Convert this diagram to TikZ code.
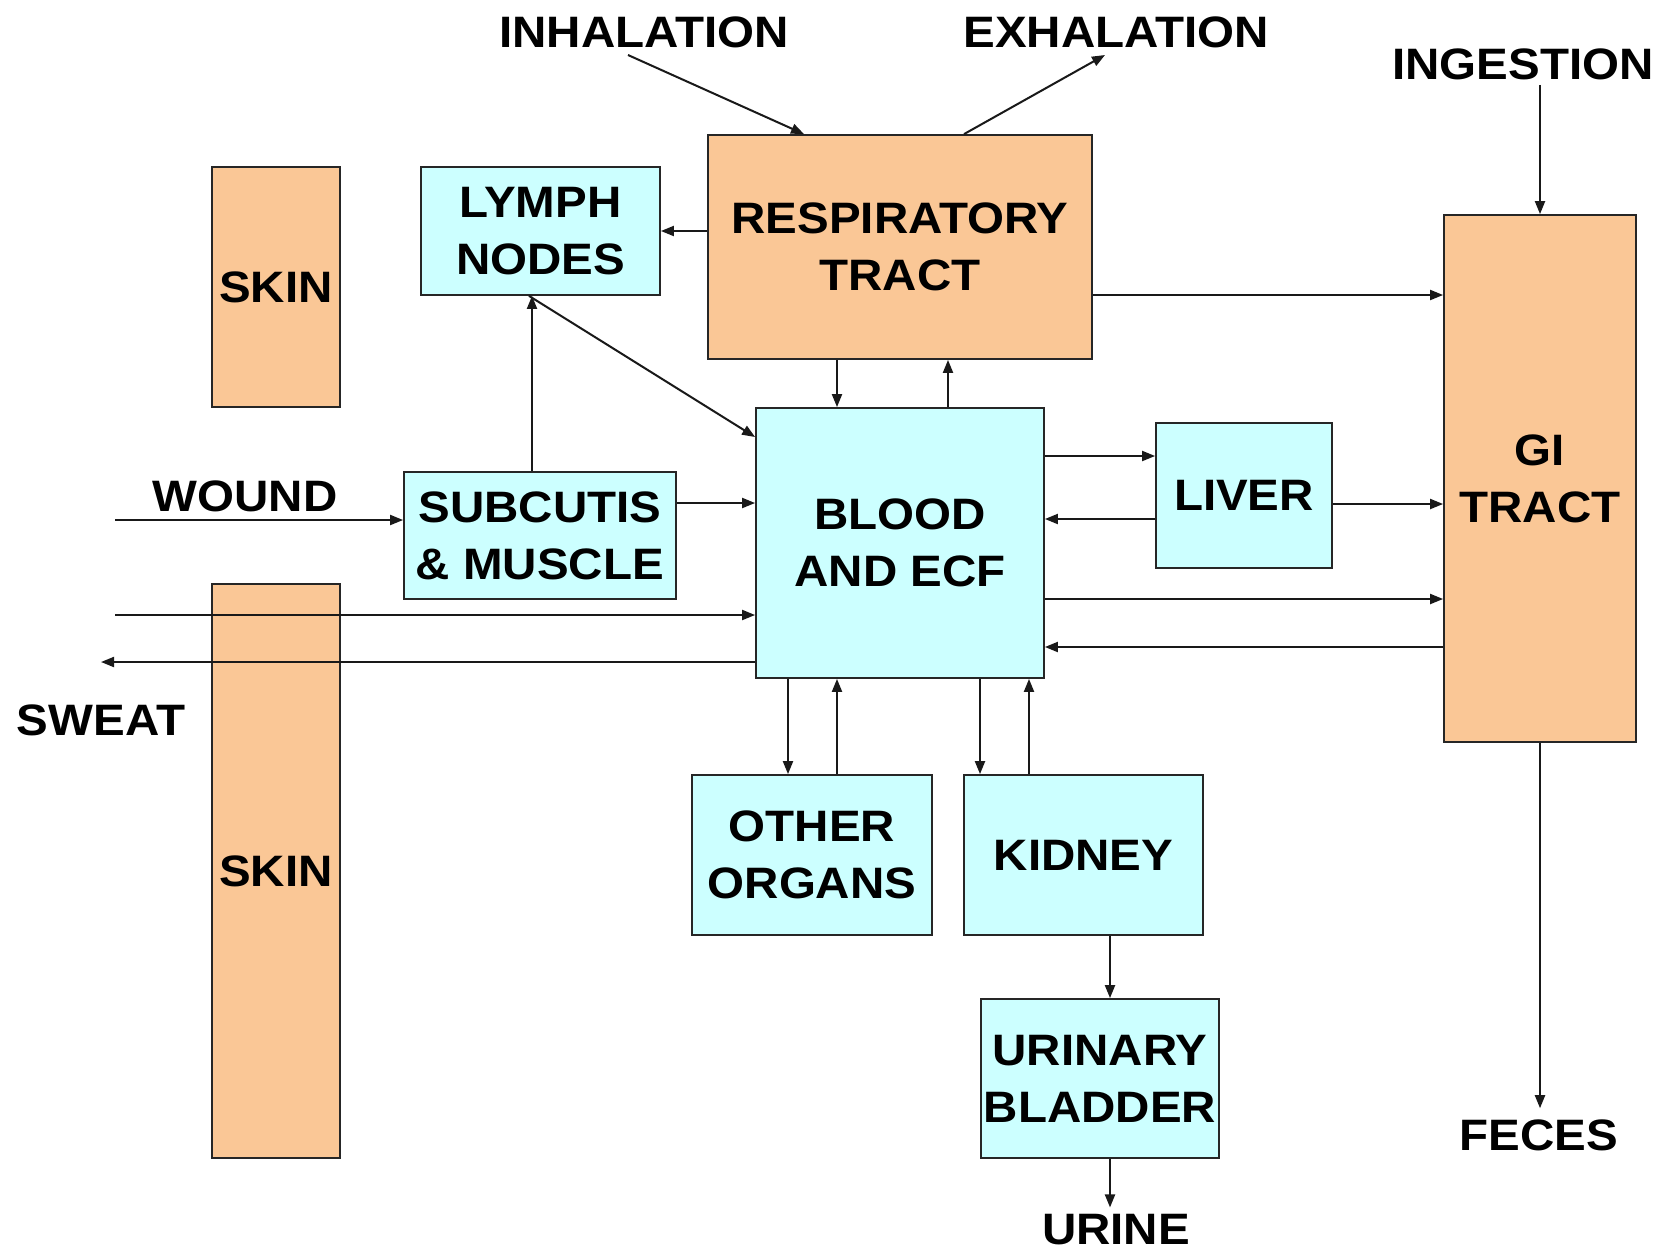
\documentclass[tikz,border=0pt]{standalone}
\usepackage{fontspec}
\setmainfont{Liberation Sans}[FakeStretch=1.08]
\usetikzlibrary{arrows.meta,calc}
\definecolor{orgc}{RGB}{250,199,150}
\definecolor{cync}{RGB}{204,255,255}
\newcommand{\lblfont}{\fontsize{44}{57}\selectfont\bfseries}
\tikzset{
  box/.style={draw=black!85, line width=1.8pt, inner sep=0pt, align=center, font=\lblfont},
  orgbox/.style={box, fill=orgc},
  cynbox/.style={box, fill=cync},
  lbl/.style={inner sep=0pt, font=\lblfont},
  arr/.style={-{Triangle[length=13pt,width=10pt]}, line width=2pt, black!90}
}
\begin{document}
\begin{tikzpicture}[x=1pt,y=-1pt]
\useasboundingbox[fill=white] (0,0) rectangle (1670,1251);
% boxes
\node[orgbox, minimum width=128pt, minimum height=240pt] (skinA) at (276,287) {SKIN};
\node[orgbox, minimum width=128pt, minimum height=574pt] (skinB) at (276,871) {SKIN};
\node[cynbox, minimum width=239pt, minimum height=128pt] (lymph) at (540.5,231) {LYMPH\\NODES};
\node[orgbox, minimum width=384pt, minimum height=224pt] (resp) at (900,247) {RESPIRATORY\\TRACT};
\node[orgbox, minimum width=192pt, minimum height=527pt] (gi) at (1540,478.5) {GI\\TRACT};
\node[cynbox, minimum width=288pt, minimum height=270pt] (blood) at (900,543) {BLOOD\\AND ECF};
\node[cynbox, minimum width=176pt, minimum height=145pt] (liver) at (1244,495.5) {LIVER};
\node[cynbox, minimum width=272pt, minimum height=127pt] (subc) at (540,535.5) {SUBCUTIS\\\&\ MUSCLE};
\node[cynbox, minimum width=240pt, minimum height=160pt] (other) at (812,855) {OTHER\\ORGANS};
\node[cynbox, minimum width=239pt, minimum height=160pt] (kidney) at (1083.5,855) {KIDNEY};
\node[cynbox, minimum width=238pt, minimum height=159pt] (bladder) at (1100,1078.5) {URINARY\\BLADDER};
% outside labels
\node[lbl] (inh) at (644,32) {INHALATION};
\node[lbl] (exh) at (1116,32) {EXHALATION};
\node[lbl] (ing) at (1523,64) {INGESTION};
\node[lbl] (wound) at (245,496) {WOUND};
\node[lbl] (sweat) at (101,720) {SWEAT};
\node[lbl] (feces) at (1539,1135) {FECES};
\node[lbl] (urine) at (1116,1230) {URINE};
% free ends
\coordinate (inhS) at (628,55);
\coordinate (exhE) at (1105,55);
\coordinate (woundS) at (115,520);
\coordinate (skinS) at (115,615);
\coordinate (sweatE) at (101,662);
% connectors
\draw[arr] (inhS) -- (resp.north -| 804,0);
\draw[arr] (resp.north -| 964,0) -- (exhE);
\draw[arr] (ing.south -| gi.north) ++(0,5) -- (gi.north);
\draw[arr] (resp.west |- 0,231) -- (lymph.east |- 0,231);
\draw[arr] (resp.east |- 0,295) -- (gi.west |- 0,295);
\draw[arr] (resp.south -| 837,0) -- (blood.north -| 837,0);
\draw[arr] (blood.north -| 948,0) -- (resp.south -| 948,0);
\draw[arr] (subc.north -| 532,0) -- (lymph.south -| 532,0);
\draw[arr] (lymph.south -| 529,0) -- (blood.west |- 0,437);
\draw[arr] (woundS) -- (subc.west |- woundS);
\draw[arr] (subc.east |- 0,503) -- (blood.west |- 0,503);
\draw[arr] (skinS) -- (blood.west |- skinS);
\draw[arr] (blood.west |- sweatE) -- (sweatE);
\draw[arr] (blood.east |- 0,456) -- (liver.west |- 0,456);
\draw[arr] (liver.west |- 0,519) -- (blood.east |- 0,519);
\draw[arr] (liver.east |- 0,504) -- (gi.west |- 0,504);
\draw[arr] (blood.east |- 0,599) -- (gi.west |- 0,599);
\draw[arr] (gi.west |- 0,647) -- (blood.east |- 0,647);
\draw[arr] (blood.south -| 788,0) -- (other.north -| 788,0);
\draw[arr] (other.north -| 837,0) -- (blood.south -| 837,0);
\draw[arr] (blood.south -| 980,0) -- (kidney.north -| 980,0);
\draw[arr] (kidney.north -| 1029,0) -- (blood.south -| 1029,0);
\draw[arr] (kidney.south -| 1110,0) -- (bladder.north -| 1110,0);
\draw[arr, shorten >=7pt] (bladder.south -| 1110,0) -- (urine.north -| 1110,0);
\draw[arr, shorten >=11pt] (gi.south) -- (feces.north -| gi.south);
\end{tikzpicture}
\end{document}
